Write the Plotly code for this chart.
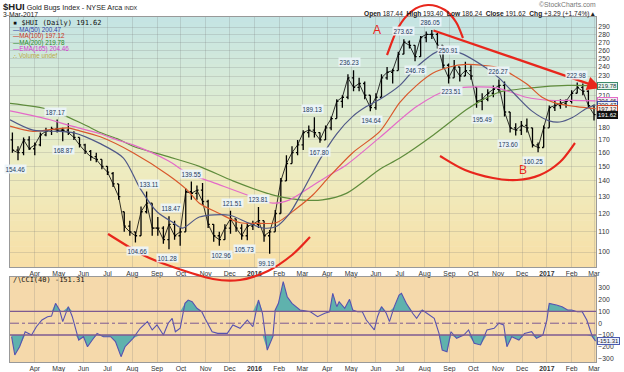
import numpy as np
import pandas as pd
import plotly.graph_objects as go

# ---------------- data ----------------
week_start = "2015-03-04"   # weekly bars (Wednesday of each week)
opens = [170,162,160,170,163,166,174,177,179,178,
         178,176,172,166,161,157,155,150,145,138,
         121,113,110,108,121,126,112,112,106,114,
         108,110,133,132,134,127,114,108,106,112,
         117,112,108,113,114,116,108,110,120,140,
         152,160,166,176,178,176,170,180,188,204,
         208,228,218,222,210,198,208,228,234,236,
         255,270,266,252,276,280,280,266,242,228,
         240,230,236,218,204,206,212,216,220,194,
         180,178,182,180,166,164,180,198,200,202,
         204,212,218,214,200]
highs = [176,165,172,173,168,176,180,181,187.17,180,
         184,177,172,167,162,160,155,150,146,138,
         121,116,110,124,133.11,126,118,113,118.47,116,
         112,135,139.55,137,138.6,128,114,110,114,121.51,
         117,114,115,116,123.81,116,111,122,142,158,
         165,170,178,182,189.13,176,182,190,206,210,
         232,236.23,228,224,210,212,232,240,238,258,
         273.62,272,266,278,284,286.05,282,266,244,248,
         240,246,242,218,212,216,220,226.27,224,194,
         184,186,188,180,168,182,200,205,206,206,
         215,222.98,222,215,201]
lows = [160,154.46,158,162,158,165,173,174,176,168.87,
        174,170,164,159,154,153,148,144,136,128,
        110,108,104.66,108,120,108,108,104,101.28,106,
        103,110,128,128,125,112,105,102.96,106,109,
        110,106,105.73,111,112,105,99.19,110,120,140,
        152,158,162,172,172,167.8,170,178,188,198,
        206,214,214,206,194.64,196,208,226,222,236,
        255,262,246.78,252,270,274,262,238,222,228,
        224,230,226,198,195.49,204,208,212,190,176,
        173.6,174,176,164,160.25,164,180,195,197,198,
        202,212,210,198,186.24]
closes = [162,160,170,163,166,174,177,179,178,178,
          176,172,166,161,157,155,150,146,138,130,
          113,110,108,121,126,112,112,106,114,108,
          110,133,132,134,127,114,108,106,112,117,
          112,108,113,114,116,108,110,120,140,152,
          160,166,176,178,176,170,180,188,204,208,
          228,218,222,210,198,208,228,234,236,255,
          270,266,252,276,280,280,266,242,228,240,
          230,236,230,204,206,212,216,220,194,180,
          178,182,180,166,164,180,198,200,202,204,
          212,218,214,200,191.62]

ma50_dates = ["2015-03-01","2015-03-30","2015-05-02","2015-05-19","2015-06-22","2015-07-21","2015-08-11",
              "2015-09-01","2015-09-21","2015-10-03","2015-10-24","2015-12-01","2015-12-23","2016-01-12",
              "2016-01-29","2016-02-14","2016-03-02","2016-03-23","2016-04-13","2016-05-03","2016-05-20",
              "2016-06-06","2016-07-01","2016-07-22","2016-08-19","2016-09-13","2016-10-17","2016-11-02",
              "2016-11-23","2016-12-13","2017-01-04","2017-01-17","2017-02-02","2017-02-19","2017-03-03"]
ma50_vals = [187,178,177,176,167,156,135,121,115,112,118,119,115,112,113,120,134,155,175,190,
             199,206,220,240,259,257,239,228,210,195,186,185,189,197,200.47]

ma100_dates = ["2015-03-01","2015-03-30","2015-05-12","2015-05-24","2015-06-22","2015-08-02","2015-09-15",
               "2015-10-09","2015-10-24","2015-11-18","2015-12-13","2016-01-07","2016-01-29","2016-02-23",
               "2016-03-14","2016-04-04","2016-05-03","2016-06-06","2016-07-01","2016-07-22","2016-08-11",
               "2016-09-01","2016-09-22","2016-10-12","2016-11-02","2016-12-06","2016-12-26","2017-01-13",
               "2017-02-07","2017-03-03"]
ma100_vals = [181.5,177,180,178,172.5,160,144,134,126,120,115,114.5,115,123,131,143,160,177,203,220,
              233,240,243,242,239,222,208,202,199,197.12]

ma200_dates = ["2015-03-01","2015-04-20","2015-06-01","2015-06-22","2015-07-13","2015-08-02","2015-09-15",
               "2015-10-24","2015-12-05","2016-01-17","2016-02-06","2016-02-27","2016-03-26","2016-04-25",
               "2016-05-20","2016-06-06","2016-07-01","2016-08-12","2016-09-22","2016-10-09","2016-11-02",
               "2016-12-13","2017-01-27","2017-03-03"]
ma200_vals = [202,196,183,176,171,165,157,150,140,132,129.5,128,128,132,141,148,156,174,196,204,
              213,217.5,220,219.78]

ema165_dates = ["2015-03-01","2015-04-20","2015-05-12","2015-06-22","2015-07-13","2015-08-02","2015-09-15",
                "2015-10-10","2015-11-10","2015-12-23","2016-01-24","2016-02-14","2016-03-14","2016-04-04",
                "2016-04-25","2016-06-06","2016-07-22","2016-09-01","2016-10-05","2016-11-02","2016-12-06",
                "2017-01-04","2017-02-02","2017-03-03"]
ema165_vals = [195,187,182.5,175,170,166,154,145,139,131,126,128,137,144,151,172,199,216,218.5,217,
               208,205,205,204.46]

cci_dates = ["2015-03-03","2015-03-07","2015-03-13","2015-03-20","2015-03-28","2015-04-03","2015-04-10","2015-04-17","2015-04-22","2015-04-27",
             "2015-05-02","2015-05-06","2015-05-13","2015-05-18","2015-05-22","2015-05-26","2015-06-01","2015-06-06","2015-06-12","2015-06-18",
             "2015-06-26","2015-07-05","2015-07-11","2015-07-18","2015-07-23","2015-08-02","2015-08-11","2015-08-20","2015-08-26","2015-09-01",
             "2015-09-09","2015-09-15","2015-09-20","2015-09-24","2015-09-30","2015-10-06","2015-10-10","2015-10-15","2015-10-21","2015-10-27",
             "2015-10-31","2015-11-09","2015-11-16","2015-11-28","2015-12-05","2015-12-14","2015-12-23","2015-12-30","2016-01-06","2016-01-11",
             "2016-01-17","2016-01-24","2016-01-27","2016-01-31","2016-02-06","2016-02-11","2016-02-17","2016-02-27","2016-03-11","2016-03-20",
             "2016-03-29","2016-04-04","2016-04-08","2016-04-13","2016-04-16","2016-04-23","2016-04-29","2016-05-03","2016-05-09","2016-05-15",
             "2016-05-20","2016-05-27","2016-05-30","2016-06-03","2016-06-08","2016-06-14","2016-06-18","2016-06-24","2016-06-30","2016-07-03",
             "2016-07-09","2016-07-17","2016-07-22","2016-07-29","2016-08-04","2016-08-13","2016-08-19","2016-08-23","2016-08-29","2016-09-03",
             "2016-09-10","2016-09-19","2016-09-25","2016-10-02","2016-10-10","2016-10-18","2016-10-27","2016-11-02","2016-11-08","2016-11-12",
             "2016-11-18","2016-11-27","2016-12-04","2016-12-13","2016-12-19","2016-12-27","2017-01-01","2017-01-04","2017-01-13","2017-01-20",
             "2017-01-27","2017-02-01","2017-02-08","2017-02-14","2017-02-20","2017-02-27","2017-03-03"]
cci_vals = [-114,-269,-199,-72,-100,-30,27,55,60,168,
            112,13,140,55,-43,-142,-114,-199,-142,-86,
            -114,-114,-156,-283,-199,-128,-43,13,-57,-15,
            -100,0,41,-72,-43,168,196,182,126,97,
            41,-72,-86,-86,-15,-43,27,-30,196,84,
            -227,-114,112,168,351,224,168,112,97,55,
            84,97,253,140,182,126,202,112,97,97,
            27,-30,-57,55,140,84,13,140,238,253,
            168,84,41,112,84,41,-86,-227,-241,-72,
            -128,-100,-57,-170,-184,-57,-43,0,-15,-199,
            -114,-142,-86,-72,-128,-100,27,168,154,140,
            112,112,97,100,27,-114,-151.31]

label_dates = ["2015-03-08","2015-04-27","2015-05-07","2015-08-08","2015-08-22","2015-09-14","2015-09-19",
               "2015-10-14","2015-11-21","2015-12-05","2015-12-20","2016-01-06","2016-01-16","2016-03-14",
               "2016-03-22","2016-04-29","2016-05-27","2016-07-06","2016-07-21","2016-08-08","2016-08-31",
               "2016-09-04","2016-10-12","2016-11-01","2016-11-14","2016-12-15","2017-02-07"]
label_vals = [154.46,187.17,168.87,104.66,133.11,101.28,118.47,139.55,102.96,121.51,105.73,123.81,99.19,
              189.13,167.80,236.23,194.64,273.62,246.78,286.05,250.91,223.51,195.49,226.27,173.60,160.25,222.98]
label_side = ["below","above","below","below","above","below","above","above","below","above","below",
              "above","below","above","below","above","below","above","below","above","above","below",
              "below","above","below","below","above"]

month_ticks = ["2015-04-01","2015-05-01","2015-06-01","2015-07-01","2015-08-01","2015-09-01","2015-10-01",
               "2015-11-01","2015-12-01","2016-01-01","2016-02-01","2016-03-01","2016-04-01","2016-05-01",
               "2016-06-01","2016-07-01","2016-08-01","2016-09-01","2016-10-01","2016-11-01","2016-12-01",
               "2017-01-01","2017-02-01","2017-03-01"]
month_labels = ["Apr","May","Jun","Jul","Aug","Sep","Oct","Nov","Dec","<b>2016</b>","Feb","Mar","Apr","May",
                "Jun","Jul","Aug","Sep","Oct","Nov","Dec","<b>2017</b>","Feb","Mar"]
price_ticks = [100,110,120,130,140,150,160,170,180,190,200,210,220,230,240,250,260,270,280,290]
cci_ticks = [-300,-200,-100,0,100,200,300]

last_vals = {"ma200": 219.78, "ema": 204.46, "ma50": 200.47, "ma100": 197.12, "close": 191.62}
cci_last = -151.31

# ---------------- geometry helpers (figure pixels -> paper) ----------------
L, T, W, H = 10, 17, 586, 345
def px(x): return (x - L) / W
def py(y): return (T + H - y) / H

PRICE_DOM = [py(267), 1.0]
CCI_DOM = [0.0, py(276.5)]
FONT = "Liberation Sans, Arial, sans-serif"
MONO = "DejaVu Sans Mono, monospace"

C_MA50, C_MA100, C_MA200, C_EMA = "#4f5888", "#d9582c", "#5f8c3c", "#e46ac8"
RED = "#e8261c"

dates = pd.date_range(week_start, periods=len(closes), freq="7D")

fig = go.Figure()

# price bars
fig.add_trace(go.Ohlc(x=dates, open=opens, high=highs, low=lows, close=closes,
                      increasing=dict(line=dict(color="black", width=1.3)),
                      decreasing=dict(line=dict(color="black", width=1.3)),
                      tickwidth=0.3, xaxis="x", yaxis="y", showlegend=False, hoverinfo="skip"))
fig.add_trace(go.Scatter(x=dates, y=closes, mode="lines", line=dict(color="black", width=0.8),
                         xaxis="x", yaxis="y", showlegend=False, hoverinfo="skip"))

for dts, vals, col in [(ma200_dates, ma200_vals, C_MA200), (ema165_dates, ema165_vals, C_EMA),
                       (ma100_dates, ma100_vals, C_MA100), (ma50_dates, ma50_vals, C_MA50)]:
    fig.add_trace(go.Scatter(x=dts, y=vals, mode="lines", line=dict(color=col, width=1.2, shape="spline", smoothing=0.8),
                             xaxis="x", yaxis="y", showlegend=False, hoverinfo="skip"))

# CCI
cci = np.array(cci_vals, dtype=float)
n = len(cci)
fig.add_trace(go.Scatter(x=cci_dates, y=[100]*n, mode="lines", line=dict(width=0), xaxis="x2", yaxis="y2",
                         showlegend=False, hoverinfo="skip"))
fig.add_trace(go.Scatter(x=cci_dates, y=np.maximum(cci, 100), mode="lines", line=dict(width=0), fill="tonexty",
                         fillcolor="#5fb2ad", xaxis="x2", yaxis="y2", showlegend=False, hoverinfo="skip"))
fig.add_trace(go.Scatter(x=cci_dates, y=[-100]*n, mode="lines", line=dict(width=0), xaxis="x2", yaxis="y2",
                         showlegend=False, hoverinfo="skip"))
fig.add_trace(go.Scatter(x=cci_dates, y=np.minimum(cci, -100), mode="lines", line=dict(width=0), fill="tonexty",
                         fillcolor="#5fb2ad", xaxis="x2", yaxis="y2", showlegend=False, hoverinfo="skip"))
fig.add_trace(go.Scatter(x=cci_dates, y=cci, mode="lines", line=dict(color="#5752b0", width=1.1),
                         xaxis="x2", yaxis="y2", showlegend=False, hoverinfo="skip"))

shapes = []
# gradient background of price panel
stops = [(0.0, (196, 228, 228)), (0.35, (222, 236, 210)), (0.62, (238, 236, 192)), (1.0, (248, 223, 166))]
def grad(t):
    for (t0, c0), (t1, c1) in zip(stops[:-1], stops[1:]):
        if t <= t1:
            f = (t - t0) / (t1 - t0)
            return tuple(int(round(a + (b - a) * f)) for a, b in zip(c0, c1))
    return stops[-1][1]
N = 48
span = 1 - PRICE_DOM[0]
for i in range(N):
    c = grad((i + 0.5) / N)
    shapes.append(dict(type="rect", xref="paper", yref="paper", x0=0, x1=1,
                       y0=1 - (i + 1) / N * span - 0.002, y1=1 - i / N * span,
                       fillcolor="rgb(%d,%d,%d)" % c, line=dict(width=0), layer="below"))
shapes.append(dict(type="rect", xref="paper", yref="paper", x0=0, x1=1, y0=CCI_DOM[0], y1=CCI_DOM[1],
                   fillcolor="#f5d9ab", line=dict(width=0), layer="below"))
# CCI reference lines
for v, dash in [(100, "solid"), (-100, "solid"), (0, "dashdot")]:
    shapes.append(dict(type="line", xref="paper", yref="y2", x0=0, x1=1, y0=v, y1=v,
                       line=dict(color="#7d5a92", width=1.4 if dash == "solid" else 1, dash=dash)))

# hand-drawn red arcs
def smooth_path(pts):
    P = [(px(x), py(y)) for x, y in pts]
    d = "M %.5f,%.5f" % P[0]
    for i in range(len(P) - 1):
        p0 = P[i - 1] if i > 0 else P[i]
        p1, p2 = P[i], P[i + 1]
        p3 = P[i + 2] if i + 2 < len(P) else P[i + 1]
        c1 = (p1[0] + (p2[0] - p0[0]) / 6, p1[1] + (p2[1] - p0[1]) / 6)
        c2 = (p2[0] - (p3[0] - p1[0]) / 6, p2[1] - (p3[1] - p1[1]) / 6)
        d += " C %.5f,%.5f %.5f,%.5f %.5f,%.5f" % (c1 + c2 + p2)
    return d
arcs = [
    [(108, 234), (143, 255), (173, 267), (213, 279), (240, 280), (268, 271), (292, 255), (310, 237)],
    [(387, 55), (398, 28), (412, 11), (428, 5), (445, 10), (456, 22), (463, 38)],
    [(440, 156), (465, 170), (493, 178), (517, 180), (540, 175), (560, 162), (575, 143)],
]
for a in arcs:
    shapes.append(dict(type="path", xref="paper", yref="paper", path=smooth_path(a),
                       line=dict(color=RED, width=2.2)))

ann = []
def txt(x, y, s, size=7, color="#222", xanchor="left", family=FONT, **kw):
    ann.append(dict(x=px(x), y=py(y), xref="paper", yref="paper", text=s, showarrow=False,
                    xanchor=xanchor, yanchor="middle", font=dict(size=size, color=color, family=family), **kw))

txt(1, 6, "<b><span style='font-size:9.5px'>$HUI</span></b> Gold Bugs Index - NYSE Arca <span style='font-size:5.5px'>INDX</span>", size=7.2)
txt(1, 14, "3-Mar-2017", size=6.8)
txt(598, 5, "©StockCharts.com", size=6.8, color="#777", xanchor="right")
txt(598, 14, "<b>Open</b> 187.44  <b>High</b> 193.40  <b>Low</b> 186.24  <b>Close</b> 191.62  <b>Chg</b> +3.29 (+1.74%)\u25b2",
    size=6.6, xanchor="right")
# legend in price panel
txt(11, 23, "\u25aa $HUI (Daily) 191.62", size=7, color="#111", family=MONO)
txt(11, 29.5, "\u2014MA(50) 200.47", size=6.3, color="#2f3ea8")
txt(11, 36, "\u2014MA(100) 197.12", size=6.3, color="#cc3322")
txt(11, 42.5, "\u2014MA(200) 219.78", size=6.3, color="#2a8a2a")
txt(11, 49, "\u2014EMA(165) 204.46", size=6.3, color="#d636d0")
txt(11, 55.5, "\u2234 Volume undef", size=6.3, color="#b8a848")
txt(11, 280, "\u2215\u2216CCI(40) -151.31", size=7, color="#111", family=MONO)
# red letters
txt(377, 30, "A", size=12, color=RED, xanchor="center")
txt(523, 170, "B", size=12, color=RED, xanchor="center")
# trend line with arrow
ann.append(dict(x=px(601), y=py(88), xref="paper", yref="paper", ax=432 - 601, ay=30 - 88,
                axref="pixel", ayref="pixel", text="", showarrow=True, arrowhead=2, arrowsize=1.2,
                arrowwidth=2.3, arrowcolor=RED))

# price labels
for d, v, side in zip(label_dates, label_vals, label_side):
    ann.append(dict(x=d, y=np.log10(v), xref="x", yref="y", text="%.2f" % v, showarrow=False,
                    yshift=8 if side == "above" else -9, font=dict(size=6.3, color="#1d3b5c", family=FONT),
                    bgcolor="rgba(236,244,250,0.92)", borderpad=0.5))

# right-side value boxes
for key, col, fcol, bg in [("ma200", "#3d8a6a", "#1a3a3a", "#e8f4ee"), ("ema", C_EMA, "#222", "#f6eaf4"),
                           ("ma50", "#3b4aa0", "#222", "#eaf0f8"), ("ma100", "#cc4422", "#222", "#f8ece6"),
                           ("close", "#111", "white", "#111")]:
    ann.append(dict(x=1, y=np.log10(last_vals[key]), xref="paper", yref="y", text="%.2f" % last_vals[key],
                    showarrow=False, xanchor="left", xshift=1, font=dict(size=6, color=fcol, family=FONT),
                    bgcolor=bg, bordercolor=col, borderwidth=1, borderpad=0))
ann.append(dict(x=1, y=cci_last, xref="paper", yref="y2", text="%.2f" % cci_last, showarrow=False,
                xanchor="left", xshift=1, font=dict(size=6, color="#223", family=FONT),
                bgcolor="#eef2fb", bordercolor="#4a5ab0", borderwidth=1, borderpad=0))

grid = "rgba(120,120,120,0.22)"
axis_common = dict(tickvals=month_ticks, ticktext=month_labels, showgrid=True, gridcolor=grid, gridwidth=1,
                   range=["2015-03-01", "2017-03-03 12:00"], showline=True, linecolor="#999", mirror=True,
                   ticks="", tickfont=dict(size=6.8, color="#333", family=FONT), zeroline=False,
                   automargin=False)
fig.update_layout(
    template="none",
    width=624, height=372, margin=dict(l=L, r=624 - L - W, t=T, b=372 - T - H, autoexpand=False),
    paper_bgcolor="white", plot_bgcolor="rgba(0,0,0,0)", showlegend=False,
    xaxis=dict(domain=[0, 1], anchor="y", rangeslider=dict(visible=False), **axis_common),
    xaxis2=dict(domain=[0, 1], anchor="y2", matches="x", **axis_common),
    yaxis=dict(domain=PRICE_DOM, anchor="x", type="log", side="right", automargin=False,
               range=[np.log10(93.15), np.log10(304.1)], tickvals=price_ticks,
               ticktext=[str(t) for t in price_ticks], showgrid=True, gridcolor=grid, ticks="",
               tickfont=dict(size=6.8, color="#333", family=FONT), showline=True, linecolor="#999", mirror=True),
    yaxis2=dict(domain=CCI_DOM, anchor="x2", side="right", range=[-328, 395], tickvals=cci_ticks,
                showgrid=False, ticks="", zeroline=False, automargin=False,
                tickfont=dict(size=6.8, color="#333", family=FONT), showline=True, linecolor="#999", mirror=True),
    shapes=shapes, annotations=ann,
)
fig.write_html("out.html", config={"displayModeBar": False, "staticPlot": True},
               post_script="document.body.style.margin='0';document.body.style.overflow='hidden';")
